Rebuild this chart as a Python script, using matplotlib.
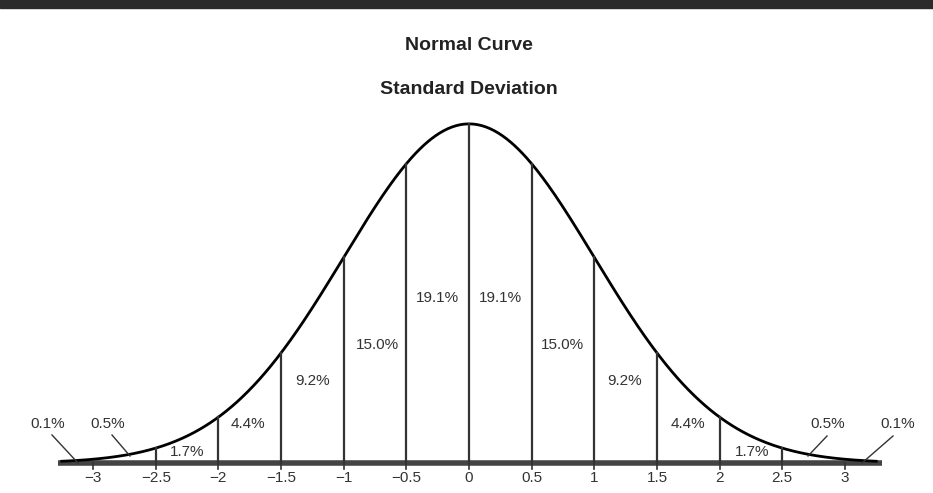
import numpy as np
import matplotlib.pyplot as plt

plt.rcParams['font.family'] = ['Liberation Sans', 'DejaVu Sans']

# data
ticks = [-3, -2.5, -2, -1.5, -1, -0.5, 0, 0.5, 1, 1.5, 2, 2.5, 3]
tick_labels = ['\u22123', '\u22122.5', '\u22122', '\u22121.5', '\u22121', '\u22120.5',
               '0', '0.5', '1', '1.5', '2', '2.5', '3']
dividers = [-2.5, -2, -1.5, -1, -0.5, 0, 0.5, 1, 1.5, 2, 2.5]
pct_labels = ['1.7%', '4.4%', '9.2%', '15.0%', '19.1%', '19.1%', '15.0%', '9.2%', '4.4%', '1.7%']
pct_pos_px = [(187, 452), (248, 424), (313, 381), (377, 345), (437, 298),
              (500, 298), (562, 345), (625, 381), (688, 424), (752, 452)]
tail_labels = ['0.1%', '0.5%', '0.5%', '0.1%']
tail_text_px = [(48, 424), (108, 424), (828, 424), (898, 424)]
tail_leader_px = [((52, 435), (78, 463)), ((112, 435), (130, 456)),
                  ((827, 436), (808, 456)), ((893, 436), (862, 463))]

X0, SX, Y0, SY = 469, 125.3, 463, 850.0
def px(p):
    return (p[0] - X0) / SX, (Y0 - p[1]) / SY

def pdf(x):
    return np.exp(-x**2 / 2) / np.sqrt(2 * np.pi)

fig = plt.figure(figsize=(9.33, 4.93), dpi=100)
ax = fig.add_axes([0, 0, 1, 1])
ax.set_xlim(-X0 / SX, (933 - X0) / SX)
ax.set_ylim(-(493 - Y0) / SY, Y0 / SY)
ax.axis('off')

# top dark strip
fig.patches.append(plt.Rectangle((0, 1 - 8 / 493), 1, 8 / 493, transform=fig.transFigure,
                                 color='#2b2b2b', zorder=10))

# baseline
ax.plot([(58 - X0) / SX, (882 - X0) / SX], [0, 0], color='#444444', lw=4, solid_capstyle='butt')

xs = np.linspace(-3.25, 3.25, 600)
ax.plot(xs, pdf(xs), color='black', lw=2)
for d in dividers:
    ax.plot([d, d], [0, pdf(d)], color='#333333', lw=1.6)
for t in ticks:
    ax.plot([t, t], [0, -6 / SY], color='#333333', lw=1.2)

for t, lab in zip(ticks, tick_labels):
    ax.text(t, -15 / SY, lab, ha='center', va='center', fontsize=11, color='#333333')

for lab, p in zip(pct_labels, pct_pos_px):
    x, y = px(p)
    ax.text(x, y, lab, ha='center', va='center', fontsize=11, color='#333333')

for lab, p, (a, b) in zip(tail_labels, tail_text_px, tail_leader_px):
    x, y = px(p)
    ax.text(x, y, lab, ha='center', va='center', fontsize=11, color='#333333')
    (xa, ya), (xb, yb) = px(a), px(b)
    ax.plot([xa, xb], [ya, yb], color='#333333', lw=1)

fig.text(469 / 933, 1 - 45 / 493, 'Normal Curve', ha='center', va='center',
         fontsize=14, fontweight='bold', color='#222222')
fig.text(469 / 933, 1 - 90 / 493, 'Standard Deviation', ha='center', va='center',
         fontsize=14, fontweight='bold', color='#222222')

fig.savefig('out.png', dpi=100)
